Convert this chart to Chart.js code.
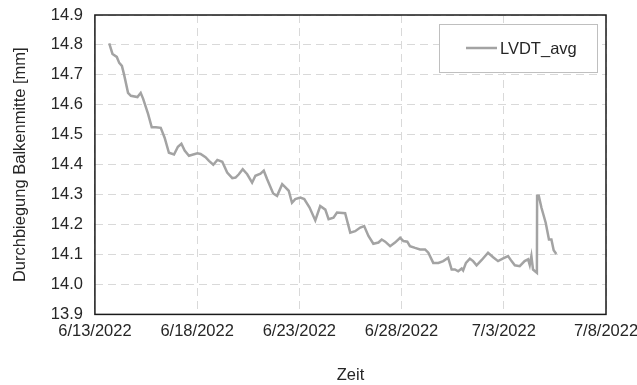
<!DOCTYPE html>
<html>
<head>
<meta charset="utf-8">
<script src="https://cdn.jsdelivr.net/npm/chart.js@4/dist/chart.umd.min.js"></script>
<style>
  html, body { margin: 0; padding: 0; background: #fff; }
  #wrap { width: 637px; height: 385px; position: relative; }
</style>
</head>
<body>
<div id="wrap"><canvas id="lvdt-chart"></canvas></div>
<script>
  // days since 6/13/2022 00:00
  var days = [
    0.70, 0.86, 1.07, 1.19, 1.32, 1.43, 1.62, 1.76, 2.08, 2.24,
    2.36, 2.60, 2.78, 2.98, 3.22, 3.41, 3.62, 3.87, 4.06, 4.23,
    4.39, 4.60, 5.01, 5.17, 5.41, 5.58, 5.79, 5.99, 6.23, 6.47,
    6.72, 6.88, 7.04, 7.23, 7.45, 7.69, 7.85, 8.10, 8.26, 8.42,
    8.72, 8.91, 9.16, 9.32, 9.48, 9.64, 9.80, 10.05, 10.24, 10.50,
    10.78, 11.02, 11.27, 11.43, 11.67, 11.84, 12.24, 12.49, 12.73, 12.98,
    13.17, 13.38, 13.62, 13.87, 14.03, 14.20, 14.44, 14.68, 14.93, 15.09,
    15.28, 15.41, 15.66, 15.90, 16.15, 16.31, 16.55, 16.80, 17.04, 17.28,
    17.45, 17.61, 17.77, 17.94, 18.01, 18.15, 18.34, 18.50, 18.67, 18.91,
    19.23, 19.48, 19.72, 19.97, 20.21, 20.38, 20.54, 20.78, 21.02, 21.19,
    21.27, 21.35, 21.43, 21.62, 21.63, 21.71, 21.84, 22.05, 22.21, 22.33,
    22.44, 22.57
  ];

  var lvdtAvg = [
    14.805, 14.77, 14.76, 14.74, 14.73, 14.70, 14.64, 14.63, 14.626, 14.64,
    14.62, 14.57, 14.525, 14.525, 14.523, 14.49, 14.44, 14.434, 14.46, 14.47,
    14.447, 14.43, 14.438, 14.436, 14.425, 14.413, 14.40, 14.416, 14.41, 14.374,
    14.355, 14.357, 14.368, 14.385, 14.368, 14.34, 14.363, 14.37, 14.38, 14.352,
    14.304, 14.296, 14.335, 14.324, 14.313, 14.273, 14.285, 14.29, 14.285, 14.257,
    14.214, 14.262, 14.25, 14.218, 14.223, 14.24, 14.238, 14.173, 14.178, 14.19,
    14.195, 14.162, 14.136, 14.14, 14.15, 14.143, 14.128, 14.14, 14.156, 14.145,
    14.143, 14.128, 14.122, 14.117, 14.117, 14.106, 14.072, 14.072, 14.078, 14.089,
    14.05, 14.05, 14.044, 14.053, 14.047, 14.072, 14.086, 14.078, 14.064, 14.081,
    14.106, 14.091, 14.078, 14.087, 14.095, 14.078, 14.064, 14.061, 14.078, 14.084,
    14.065, 14.095, 14.05, 14.039, 14.296, 14.296, 14.257, 14.206, 14.15, 14.15,
    14.114, 14.102
  ];

  var xTickLabels = ['6/13/2022', '6/18/2022', '6/23/2022', '6/28/2022', '7/3/2022', '7/8/2022'];

  var fontFamily = '"Liberation Sans", Arial, sans-serif';
  var fontSize = 16.5;
  var textColor = '#262626';

  // border around plot area
  var framePlugin = {
    id: 'frame',
    afterDatasetsDraw: function(chart) {
      var a = chart.chartArea, ctx = chart.ctx;
      ctx.save();
      ctx.strokeStyle = '#1a1a1a';
      ctx.lineWidth = 1.5;
      ctx.strokeRect(a.left, a.top, a.right - a.left, a.bottom - a.top);
      ctx.restore();
    }
  };

  // legend box in the top right of the plot
  var legendBoxPlugin = {
    id: 'legendBox',
    afterDraw: function(chart) {
      var ctx = chart.ctx, a = chart.chartArea;
      var ds = chart.data.datasets[0];
      var w = 158, h = 48;
      var x = a.right - 9 - w, y = a.top + 9;
      ctx.save();
      ctx.fillStyle = '#fff';
      ctx.fillRect(x, y, w, h);
      ctx.strokeStyle = '#bfbfbf';
      ctx.lineWidth = 1;
      ctx.strokeRect(x + 0.5, y + 0.5, w, h);
      ctx.strokeStyle = ds.borderColor;
      ctx.lineWidth = 2.5;
      ctx.beginPath();
      ctx.moveTo(x + 27, y + h / 2);
      ctx.lineTo(x + 58, y + h / 2);
      ctx.stroke();
      ctx.fillStyle = textColor;
      ctx.font = fontSize + 'px ' + fontFamily;
      ctx.textBaseline = 'middle';
      ctx.fillText(ds.label, x + 61, y + h / 2 + 1);
      ctx.restore();
    }
  };

  var points = days.map(function(d, i) {
    return { x: d, y: lvdtAvg[i] };
  });

  var ctx = document.getElementById('lvdt-chart').getContext('2d');
  var chart = new Chart(ctx, {
    type: 'line',
    data: {
      datasets: [{
        label: 'LVDT_avg',
        data: points,
        borderColor: '#a3a3a3',
        borderWidth: 2.5,
        fill: false,
        tension: 0,
        pointRadius: 0
      }]
    },
    options: {
      responsive: true,
      maintainAspectRatio: false,
      animation: false,
      layout: { padding: { left: 7, right: 31, top: 15, bottom: 0 } },
      plugins: {
        legend: { display: false },
        tooltip: { enabled: false }
      },
      scales: {
        x: {
          type: 'linear',
          min: 0,
          max: 25,
          afterFit: function(s) { s.paddingLeft = 0; s.paddingRight = 0; },
          grid: { color: '#d9d9d9', lineWidth: 1, drawTicks: false },
          border: { display: false, dash: [8, 5] },
          ticks: {
            stepSize: 5,
            autoSkip: false,
            maxRotation: 0,
            padding: 7,
            color: textColor,
            font: { family: fontFamily, size: fontSize },
            callback: function(v) { return xTickLabels[Math.round(v / 5)]; }
          },
          title: {
            display: true,
            text: 'Zeit',
            color: textColor,
            font: { family: fontFamily, size: fontSize },
            padding: { top: 17, bottom: 0 }
          }
        },
        y: {
          min: 13.9,
          max: 14.9,
          afterFit: function(s) { s.paddingTop = 0; s.paddingBottom = 0; },
          grid: { color: '#d9d9d9', lineWidth: 1, drawTicks: false },
          border: { display: false, dash: [8, 5] },
          ticks: {
            stepSize: 0.1,
            padding: 12,
            color: textColor,
            font: { family: fontFamily, size: fontSize },
            callback: function(v) { return v.toFixed(1); }
          },
          title: {
            display: true,
            text: 'Durchbiegung Balkenmitte [mm]',
            color: textColor,
            font: { family: fontFamily, size: fontSize },
            padding: { top: 4, bottom: 8 }
          }
        }
      }
    },
    plugins: [framePlugin, legendBoxPlugin]
  });
</script>
</body>
</html>
